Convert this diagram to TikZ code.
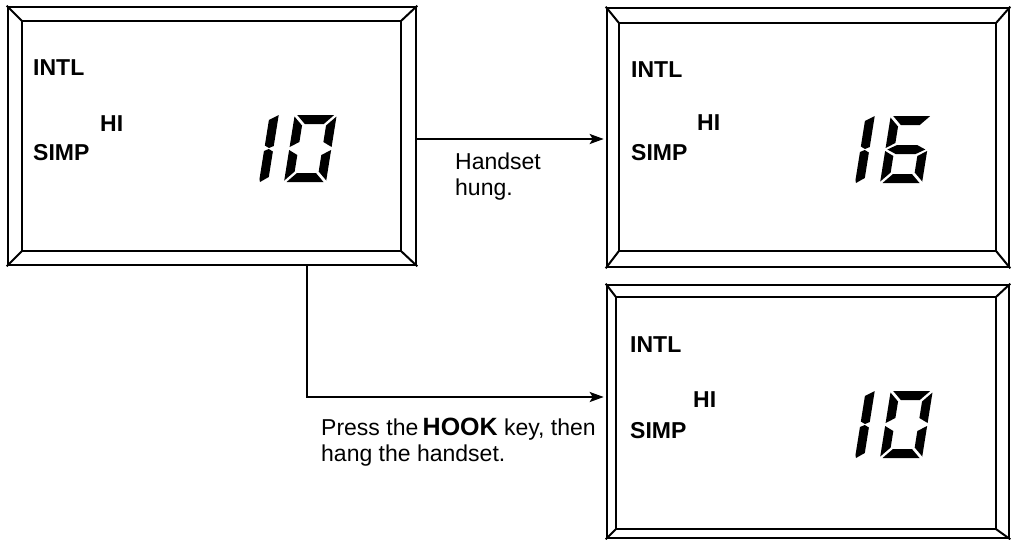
\documentclass[tikz,border=0pt]{standalone}
\usepackage{fontspec}
\setmainfont{Liberation Sans}
\usetikzlibrary{arrows.meta}
\usetikzlibrary{positioning}
\usetikzlibrary{calc}
\tikzset{display/.style = {draw, rectangle, line width = 2.6pt, inner sep = 0}}
\tikzset{bezelline/.style = {line width = 2pt}}
\tikzset{lcdlabel/.style = {font = \bfseries\fontsize{23}{26}\selectfont, inner sep = 0, anchor = base west}}
\tikzset{note/.style = {font = \fontsize{23}{25.5}\selectfont, inner sep = 0, align = left, anchor = north west}}
\tikzset{flow/.style = {line width = 2pt, -{Stealth[length = 14pt, width = 10pt, inset = 3pt]}, shorten > = 2pt}}
% lcd segments, drawn upright, slanted by the scope
\tikzset{lcd a/.pic = {\fill (2.5,67) -- (39.5,67) -- (30.5,58) -- (11.5,58) -- cycle;}}
\tikzset{lcd b/.pic = {\fill (42,65.5) -- (33,56.5) -- (33,40) -- (42,35) -- cycle;}}
\tikzset{lcd c/.pic = {\fill (42,32) -- (33,27) -- (33,10.5) -- (42,1.5) -- cycle;}}
\tikzset{lcd d/.pic = {\fill (2.5,0) -- (39.5,0) -- (30.5,9) -- (11.5,9) -- cycle;}}
\tikzset{lcd e/.pic = {\fill (0,32) -- (9,27) -- (9,10.5) -- (0,1.5) -- cycle;}}
\tikzset{lcd f/.pic = {\fill (0,65.5) -- (9,56.5) -- (9,40) -- (0,35) -- cycle;}}
\tikzset{lcd g/.pic = {\fill (2,33.5) -- (11,38) -- (31,38) -- (40,33.5) -- (31,29) -- (11,29) -- cycle;}}
\tikzset{lcd one u/.pic = {\fill (9,67) -- (9,36) -- (4.5,34) -- (0,36.5) -- (0,62) -- cycle;}}
\tikzset{lcd one l/.pic = {\fill (0,31) -- (4.5,33) -- (9,30.5) -- (9,5) -- (1,0) -- (0,3) -- cycle;}}
\newcommand{\bezel}[5]{%
  \draw[bezelline] ($(#1.north west)+(#2,#3)$) rectangle ($(#1.south east)+(-#4,-#5)$);
  \draw[bezelline] (#1.north west) -- ($(#1.north west)+(#2,#3)$);
  \draw[bezelline] (#1.north east) -- ($(#1.north east)+(-#4,#3)$);
  \draw[bezelline] (#1.south east) -- ($(#1.south east)+(-#4,-#5)$);
  \draw[bezelline] (#1.south west) -- ($(#1.south west)+(#2,-#5)$);
}
\newcommand{\reading}[3]{%
  \begin{scope}[shift = {(#1,#2)}, x = 1pt, y = 1pt, xslant = 0.16]
    \pic[transform shape] {lcd one u};
    \pic[transform shape] {lcd one l};
    \foreach \s in {#3} \pic[transform shape, xshift = 25pt] {lcd \s};
  \end{scope}
}

\begin{document}
\begin{tikzpicture}[x = 1pt, y = -1pt]
  \useasboundingbox (0,0) rectangle (1012,539);
  % the three displays
  \node[display, minimum width = 408pt, minimum height = 258pt] (disp1) at (212,136) {};
  \node[display, minimum width = 402pt, minimum height = 259pt] (disp2) at (808,137.5) {};
  \node[display, minimum width = 402pt, minimum height = 253pt] (disp3) at (808,411.5) {};
  \bezel{disp1}{15}{15}{16}{15}
  \bezel{disp2}{13}{16}{14}{17}
  \bezel{disp3}{10}{13}{14}{10}
  % display texts
  \node[lcdlabel] (intl1) at (33,75) {INTL};
  \node[lcdlabel] (hi1) at (100,131) {HI};
  \node[lcdlabel] (simp1) at (33,160) {SIMP};
  \node[lcdlabel] (intl2) at (631,77) {INTL};
  \node[lcdlabel] (hi2) at (697,130) {HI};
  \node[lcdlabel] (simp2) at (631,160) {SIMP};
  \node[lcdlabel] (intl3) at (630,352) {INTL};
  \node[lcdlabel] (hi3) at (693,407) {HI};
  \node[lcdlabel] (simp3) at (630,438) {SIMP};
  \reading{259}{182}{a,b,c,d,e,f}
  \reading{855}{183}{a,c,d,e,f,g}
  \reading{855}{458}{a,b,c,d,e,f}
  % transitions
  \draw[flow] ([yshift = -3pt]disp1.east) -- ([yshift = -3pt]disp1.east -| disp2.west);
  \node[note] (hung) at (455,153) {Handset\\hung.};
  \coordinate (turn) at (307,397);
  \draw[flow] (disp1.south -| turn) -- (turn) -- (turn -| disp3.west);
  \node[note] (hook) at (321,418) {Press the\hspace{-2pt} {\bfseries\fontsize{25}{25}\selectfont HOOK} key, then\\hang the handset.};
\end{tikzpicture}
\end{document}
